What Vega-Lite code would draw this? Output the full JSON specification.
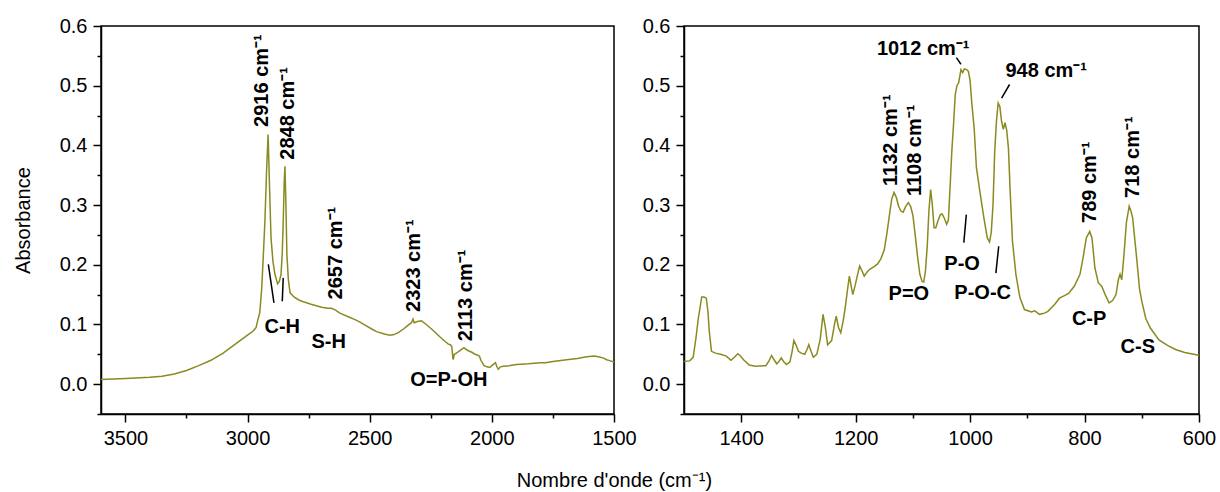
{
  "$schema": "https://vega.github.io/schema/vega-lite/v6.json",
  "background": "white",
  "padding": {"left": 12, "top": 15, "right": 2, "bottom": 5},
  "bounds": "flush",
  "spacing": 70,
  "title": {"text": "Nombre d'onde (cm⁻¹)", "orient": "bottom", "anchor": "middle", "font": "Liberation Sans", "fontSize": 20, "fontWeight": "normal", "offset": 22, "color": "black"},
  "config": {
    "view": {"stroke": "black", "strokeWidth": 1.5},
    "axis": {"grid": false, "domainColor": "black", "domainWidth": 1.5, "tickColor": "black", "tickWidth": 1.5, "labelFont": "Liberation Sans", "labelFontSize": 20, "labelColor": "black", "labelPadding": 6, "titleFont": "Liberation Sans", "titleFontSize": 20, "titleFontWeight": "normal", "titleColor": "black", "titlePadding": 26, "labelOverlap": false, "labelFlush": false}
  },
  "datasets": {
    "left": [
      {"w": 3600, "a": 0.008}, {"w": 3500, "a": 0.0095}, {"w": 3400, "a": 0.0115}, {"w": 3350, "a": 0.0134}, {"w": 3300, "a": 0.017}, {"w": 3250, "a": 0.023}, {"w": 3200, "a": 0.031}, {"w": 3150, "a": 0.04}, {"w": 3100, "a": 0.052}, {"w": 3060, "a": 0.064}, {"w": 3024, "a": 0.075}, {"w": 3000, "a": 0.082}, {"w": 2977, "a": 0.089}, {"w": 2965, "a": 0.095}, {"w": 2959, "a": 0.106}, {"w": 2950, "a": 0.12}, {"w": 2942, "a": 0.161}, {"w": 2935, "a": 0.22}, {"w": 2929, "a": 0.273}, {"w": 2922, "a": 0.36}, {"w": 2916, "a": 0.418}, {"w": 2910, "a": 0.33}, {"w": 2904, "a": 0.245}, {"w": 2896, "a": 0.205}, {"w": 2888, "a": 0.184}, {"w": 2877, "a": 0.168}, {"w": 2870, "a": 0.172}, {"w": 2863, "a": 0.184}, {"w": 2858, "a": 0.22}, {"w": 2854, "a": 0.273}, {"w": 2850, "a": 0.34}, {"w": 2847, "a": 0.365}, {"w": 2843, "a": 0.3}, {"w": 2839, "a": 0.217}, {"w": 2833, "a": 0.175}, {"w": 2826, "a": 0.153}, {"w": 2810, "a": 0.146}, {"w": 2790, "a": 0.141}, {"w": 2778, "a": 0.139}, {"w": 2740, "a": 0.134}, {"w": 2697, "a": 0.129}, {"w": 2670, "a": 0.127}, {"w": 2656, "a": 0.127}, {"w": 2640, "a": 0.124}, {"w": 2622, "a": 0.119}, {"w": 2588, "a": 0.113}, {"w": 2560, "a": 0.108}, {"w": 2540, "a": 0.104}, {"w": 2519, "a": 0.099}, {"w": 2490, "a": 0.092}, {"w": 2472, "a": 0.088}, {"w": 2440, "a": 0.084}, {"w": 2417, "a": 0.082}, {"w": 2400, "a": 0.083}, {"w": 2380, "a": 0.087}, {"w": 2363, "a": 0.092}, {"w": 2345, "a": 0.098}, {"w": 2329, "a": 0.103}, {"w": 2323, "a": 0.109}, {"w": 2318, "a": 0.103}, {"w": 2305, "a": 0.105}, {"w": 2288, "a": 0.106}, {"w": 2275, "a": 0.102}, {"w": 2260, "a": 0.097}, {"w": 2240, "a": 0.09}, {"w": 2212, "a": 0.079}, {"w": 2190, "a": 0.071}, {"w": 2178, "a": 0.067}, {"w": 2170, "a": 0.066}, {"w": 2164, "a": 0.063}, {"w": 2160, "a": 0.045}, {"w": 2158, "a": 0.041}, {"w": 2154, "a": 0.05}, {"w": 2145, "a": 0.052}, {"w": 2131, "a": 0.056}, {"w": 2114, "a": 0.061}, {"w": 2105, "a": 0.058}, {"w": 2096, "a": 0.056}, {"w": 2080, "a": 0.053}, {"w": 2069, "a": 0.05}, {"w": 2060, "a": 0.049}, {"w": 2051, "a": 0.047}, {"w": 2045, "a": 0.04}, {"w": 2032, "a": 0.031}, {"w": 2020, "a": 0.029}, {"w": 2008, "a": 0.028}, {"w": 2000, "a": 0.031}, {"w": 1994, "a": 0.033}, {"w": 1985, "a": 0.036}, {"w": 1980, "a": 0.03}, {"w": 1974, "a": 0.025}, {"w": 1965, "a": 0.029}, {"w": 1953, "a": 0.03}, {"w": 1930, "a": 0.031}, {"w": 1899, "a": 0.033}, {"w": 1850, "a": 0.034}, {"w": 1803, "a": 0.036}, {"w": 1780, "a": 0.036}, {"w": 1750, "a": 0.038}, {"w": 1694, "a": 0.041}, {"w": 1650, "a": 0.043}, {"w": 1612, "a": 0.046}, {"w": 1580, "a": 0.047}, {"w": 1565, "a": 0.046}, {"w": 1545, "a": 0.044}, {"w": 1530, "a": 0.041}, {"w": 1515, "a": 0.039}, {"w": 1500, "a": 0.037}
    ],
    "right": [
      {"w": 1500, "a": 0.038}, {"w": 1490, "a": 0.039}, {"w": 1484, "a": 0.045}, {"w": 1479, "a": 0.078}, {"w": 1475, "a": 0.11}, {"w": 1472, "a": 0.128}, {"w": 1469, "a": 0.146}, {"w": 1465, "a": 0.146}, {"w": 1461, "a": 0.144}, {"w": 1458, "a": 0.12}, {"w": 1456, "a": 0.09}, {"w": 1452, "a": 0.055}, {"w": 1445, "a": 0.052}, {"w": 1436, "a": 0.05}, {"w": 1426, "a": 0.047}, {"w": 1418, "a": 0.04}, {"w": 1412, "a": 0.045}, {"w": 1406, "a": 0.051}, {"w": 1402, "a": 0.048}, {"w": 1396, "a": 0.041}, {"w": 1386, "a": 0.032}, {"w": 1375, "a": 0.03}, {"w": 1357, "a": 0.031}, {"w": 1352, "a": 0.038}, {"w": 1347, "a": 0.048}, {"w": 1342, "a": 0.04}, {"w": 1338, "a": 0.034}, {"w": 1334, "a": 0.038}, {"w": 1330, "a": 0.044}, {"w": 1326, "a": 0.038}, {"w": 1321, "a": 0.033}, {"w": 1315, "a": 0.037}, {"w": 1311, "a": 0.055}, {"w": 1308, "a": 0.073}, {"w": 1304, "a": 0.065}, {"w": 1300, "a": 0.055}, {"w": 1295, "a": 0.052}, {"w": 1289, "a": 0.05}, {"w": 1285, "a": 0.058}, {"w": 1282, "a": 0.066}, {"w": 1278, "a": 0.055}, {"w": 1274, "a": 0.045}, {"w": 1268, "a": 0.05}, {"w": 1262, "a": 0.075}, {"w": 1257, "a": 0.117}, {"w": 1253, "a": 0.095}, {"w": 1249, "a": 0.066}, {"w": 1242, "a": 0.073}, {"w": 1237, "a": 0.1}, {"w": 1234, "a": 0.114}, {"w": 1230, "a": 0.095}, {"w": 1226, "a": 0.086}, {"w": 1222, "a": 0.105}, {"w": 1218, "a": 0.13}, {"w": 1214, "a": 0.16}, {"w": 1211, "a": 0.181}, {"w": 1208, "a": 0.165}, {"w": 1205, "a": 0.15}, {"w": 1201, "a": 0.165}, {"w": 1198, "a": 0.178}, {"w": 1193, "a": 0.198}, {"w": 1189, "a": 0.19}, {"w": 1185, "a": 0.181}, {"w": 1180, "a": 0.188}, {"w": 1176, "a": 0.192}, {"w": 1168, "a": 0.197}, {"w": 1162, "a": 0.201}, {"w": 1156, "a": 0.21}, {"w": 1150, "a": 0.225}, {"w": 1145, "a": 0.255}, {"w": 1141, "a": 0.283}, {"w": 1137, "a": 0.31}, {"w": 1133, "a": 0.321}, {"w": 1129, "a": 0.313}, {"w": 1125, "a": 0.298}, {"w": 1121, "a": 0.29}, {"w": 1117, "a": 0.288}, {"w": 1113, "a": 0.297}, {"w": 1108, "a": 0.304}, {"w": 1104, "a": 0.298}, {"w": 1100, "a": 0.283}, {"w": 1096, "a": 0.25}, {"w": 1092, "a": 0.215}, {"w": 1088, "a": 0.185}, {"w": 1084, "a": 0.172}, {"w": 1081, "a": 0.171}, {"w": 1078, "a": 0.19}, {"w": 1075, "a": 0.23}, {"w": 1072, "a": 0.29}, {"w": 1069, "a": 0.326}, {"w": 1066, "a": 0.3}, {"w": 1063, "a": 0.262}, {"w": 1060, "a": 0.262}, {"w": 1056, "a": 0.274}, {"w": 1052, "a": 0.284}, {"w": 1049, "a": 0.285}, {"w": 1045, "a": 0.278}, {"w": 1041, "a": 0.268}, {"w": 1038, "a": 0.275}, {"w": 1035, "a": 0.33}, {"w": 1032, "a": 0.39}, {"w": 1029, "a": 0.435}, {"w": 1026, "a": 0.485}, {"w": 1023, "a": 0.5}, {"w": 1020, "a": 0.505}, {"w": 1016, "a": 0.527}, {"w": 1013, "a": 0.522}, {"w": 1010, "a": 0.528}, {"w": 1006, "a": 0.527}, {"w": 1003, "a": 0.524}, {"w": 1000, "a": 0.508}, {"w": 997, "a": 0.47}, {"w": 993, "a": 0.43}, {"w": 989, "a": 0.363}, {"w": 983, "a": 0.323}, {"w": 976, "a": 0.279}, {"w": 970, "a": 0.245}, {"w": 966, "a": 0.238}, {"w": 963, "a": 0.255}, {"w": 960, "a": 0.3}, {"w": 957, "a": 0.39}, {"w": 954, "a": 0.44}, {"w": 951, "a": 0.471}, {"w": 948, "a": 0.465}, {"w": 945, "a": 0.44}, {"w": 942, "a": 0.427}, {"w": 939, "a": 0.438}, {"w": 936, "a": 0.425}, {"w": 933, "a": 0.395}, {"w": 930, "a": 0.323}, {"w": 926, "a": 0.24}, {"w": 920, "a": 0.184}, {"w": 913, "a": 0.145}, {"w": 905, "a": 0.125}, {"w": 893, "a": 0.121}, {"w": 887, "a": 0.123}, {"w": 879, "a": 0.117}, {"w": 870, "a": 0.119}, {"w": 864, "a": 0.122}, {"w": 852, "a": 0.134}, {"w": 844, "a": 0.144}, {"w": 836, "a": 0.148}, {"w": 828, "a": 0.152}, {"w": 818, "a": 0.164}, {"w": 808, "a": 0.184}, {"w": 802, "a": 0.215}, {"w": 797, "a": 0.245}, {"w": 791, "a": 0.256}, {"w": 787, "a": 0.245}, {"w": 782, "a": 0.195}, {"w": 776, "a": 0.17}, {"w": 770, "a": 0.164}, {"w": 764, "a": 0.15}, {"w": 757, "a": 0.136}, {"w": 751, "a": 0.14}, {"w": 745, "a": 0.15}, {"w": 741, "a": 0.175}, {"w": 738, "a": 0.184}, {"w": 735, "a": 0.175}, {"w": 731, "a": 0.218}, {"w": 727, "a": 0.27}, {"w": 722, "a": 0.298}, {"w": 719, "a": 0.29}, {"w": 716, "a": 0.279}, {"w": 713, "a": 0.25}, {"w": 709, "a": 0.212}, {"w": 704, "a": 0.16}, {"w": 700, "a": 0.139}, {"w": 693, "a": 0.11}, {"w": 685, "a": 0.094}, {"w": 670, "a": 0.074}, {"w": 655, "a": 0.065}, {"w": 641, "a": 0.058}, {"w": 625, "a": 0.053}, {"w": 609, "a": 0.05}, {"w": 600, "a": 0.048}
    ],
    "leftAnn": [
      {"w": 2939, "a": 0.431, "t": "2916 cm⁻¹", "kind": "rot"},
      {"w": 2835, "a": 0.376, "t": "2848 cm⁻¹", "kind": "rot"},
      {"w": 2638, "a": 0.142, "t": "2657 cm⁻¹", "kind": "rot"},
      {"w": 2319, "a": 0.121, "t": "2323 cm⁻¹", "kind": "rot"},
      {"w": 2106, "a": 0.072, "t": "2113 cm⁻¹", "kind": "rot"},
      {"w": 2858, "a": 0.096, "t": "C-H", "kind": "flat"},
      {"w": 2668, "a": 0.071, "t": "S-H", "kind": "flat"},
      {"w": 2176, "a": 0.0067, "t": "O=P-OH", "kind": "flat"}
    ],
    "leftLines": [
      {"w": 2915, "a": 0.2006, "w2": 2892, "a2": 0.136},
      {"w": 2854, "a": 0.178, "w2": 2858, "a2": 0.139}
    ],
    "rightAnn": [
      {"w": 1138, "a": 0.332, "t": "1132 cm⁻¹", "kind": "rot"},
      {"w": 1096, "a": 0.315, "t": "1108 cm⁻¹", "kind": "rot"},
      {"w": 790, "a": 0.27, "t": "789 cm⁻¹", "kind": "rot"},
      {"w": 715, "a": 0.312, "t": "718 cm⁻¹", "kind": "rot"},
      {"w": 1082, "a": 0.561, "t": "1012 cm⁻¹", "kind": "flat"},
      {"w": 867, "a": 0.525, "t": "948 cm⁻¹", "kind": "flat"},
      {"w": 1107, "a": 0.151, "t": "P=O", "kind": "flat"},
      {"w": 1014, "a": 0.201, "t": "P-O", "kind": "flat"},
      {"w": 978, "a": 0.153, "t": "P-O-C", "kind": "flat"},
      {"w": 792, "a": 0.109, "t": "C-P", "kind": "flat"},
      {"w": 707, "a": 0.062, "t": "C-S", "kind": "flat"}
    ],
    "rightLines": [
      {"w": 1024, "a": 0.547, "w2": 1016, "a2": 0.536},
      {"w": 931, "a": 0.502, "w2": 945, "a2": 0.479},
      {"w": 1006.6, "a": 0.284, "w2": 1011, "a2": 0.237},
      {"w": 950, "a": 0.231, "w2": 955, "a2": 0.186}
    ]
  },
  "hconcat": [
    {
      "width": 513,
      "height": 388,
      "encoding": {
        "x": {"field": "w", "type": "quantitative", "title": null, "scale": {"domain": [1500, 3600], "reverse": true, "nice": false, "zero": false},
          "axis": {"values": [3500, 3250, 3000, 2750, 2500, 2250, 2000, 1750, 1500],
            "labelExpr": "datum.value % 500 == 0 ? format(datum.value, 'd') : ''",
            "tickSize": {"condition": {"test": "datum.value % 500 == 0", "value": 8}, "value": 4}}},
        "y": {"field": "a", "type": "quantitative", "title": "Absorbance", "scale": {"domain": [-0.05, 0.6], "nice": false, "zero": false},
          "axis": {"values": [-0.05, 0, 0.05, 0.1, 0.15, 0.2, 0.25, 0.3, 0.35, 0.4, 0.45, 0.5, 0.55, 0.6],
            "labelExpr": "round(datum.value * 100) % 10 == 0 ? format(datum.value, '.1f') : ''",
            "tickSize": {"condition": {"test": "round(datum.value * 100) % 10 == 0", "value": 8}, "value": 4}}}
      },
      "layer": [
        {
          "data": {"name": "left"},
          "mark": {"type": "line", "color": "#8a8a20", "strokeWidth": 1.5}
        },
        {
          "data": {"name": "leftLines"},
          "mark": {"type": "rule", "color": "black", "strokeWidth": 1.5},
          "encoding": {"x2": {"field": "w2"}, "y2": {"field": "a2"}}
        },
        {
          "data": {"name": "leftAnn"},
          "transform": [{"filter": "datum.kind == 'rot'"}],
          "mark": {"type": "text", "angle": 270, "align": "left", "baseline": "middle", "font": "Liberation Sans", "fontWeight": "bold", "fontSize": 20, "color": "black"},
          "encoding": {"text": {"field": "t"}}
        },
        {
          "data": {"name": "leftAnn"},
          "transform": [{"filter": "datum.kind == 'flat'"}],
          "mark": {"type": "text", "align": "center", "baseline": "middle", "font": "Liberation Sans", "fontWeight": "bold", "fontSize": 20, "color": "black"},
          "encoding": {"text": {"field": "t"}}
        }
      ]
    },
    {
      "width": 515,
      "height": 388,
      "encoding": {
        "x": {"field": "w", "type": "quantitative", "title": null, "scale": {"domain": [600, 1500], "reverse": true, "nice": false, "zero": false},
          "axis": {"values": [1400, 1300, 1200, 1100, 1000, 900, 800, 700, 600],
            "labelExpr": "datum.value % 200 == 0 ? format(datum.value, 'd') : ''",
            "tickSize": {"condition": {"test": "datum.value % 200 == 0", "value": 8}, "value": 4}}},
        "y": {"field": "a", "type": "quantitative", "title": null, "scale": {"domain": [-0.05, 0.6], "nice": false, "zero": false},
          "axis": {"values": [-0.05, 0, 0.05, 0.1, 0.15, 0.2, 0.25, 0.3, 0.35, 0.4, 0.45, 0.5, 0.55, 0.6],
            "labelExpr": "round(datum.value * 100) % 10 == 0 ? format(datum.value, '.1f') : ''",
            "tickSize": {"condition": {"test": "round(datum.value * 100) % 10 == 0", "value": 8}, "value": 4}}}
      },
      "layer": [
        {
          "data": {"name": "right"},
          "mark": {"type": "line", "color": "#8a8a20", "strokeWidth": 1.5}
        },
        {
          "data": {"name": "rightLines"},
          "mark": {"type": "rule", "color": "black", "strokeWidth": 1.5},
          "encoding": {"x2": {"field": "w2"}, "y2": {"field": "a2"}}
        },
        {
          "data": {"name": "rightAnn"},
          "transform": [{"filter": "datum.kind == 'rot'"}],
          "mark": {"type": "text", "angle": 270, "align": "left", "baseline": "middle", "font": "Liberation Sans", "fontWeight": "bold", "fontSize": 20, "color": "black"},
          "encoding": {"text": {"field": "t"}}
        },
        {
          "data": {"name": "rightAnn"},
          "transform": [{"filter": "datum.kind == 'flat'"}],
          "mark": {"type": "text", "align": "center", "baseline": "middle", "font": "Liberation Sans", "fontWeight": "bold", "fontSize": 20, "color": "black"},
          "encoding": {"text": {"field": "t"}}
        }
      ]
    }
  ]
}
